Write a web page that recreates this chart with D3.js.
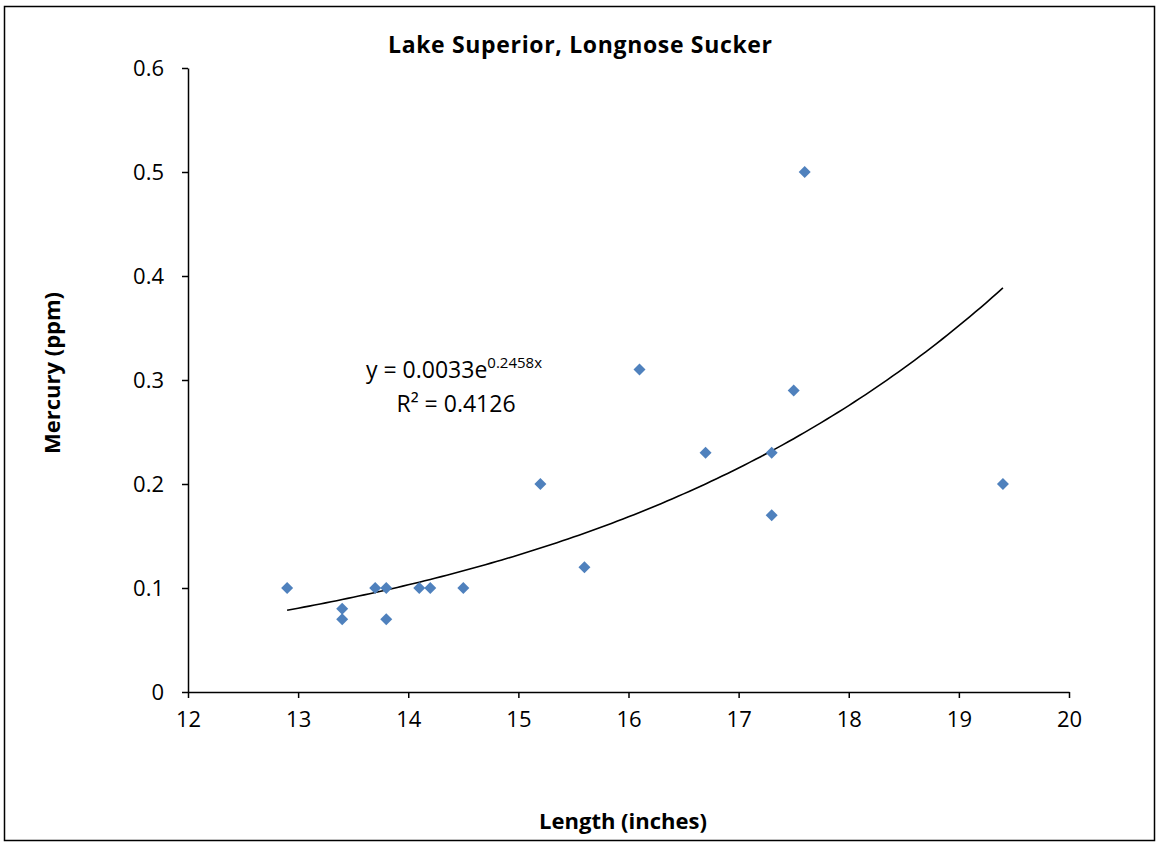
<!DOCTYPE html>
<html>
<head>
<meta charset="utf-8">
<script src="https://cdn.jsdelivr.net/npm/d3@7"></script>
<style>
  body { margin: 0; background: #fff; }
  svg { display: block; font-family: "Open Sans", Lato, sans-serif; }
</style>
</head>
<body>
<script>
// data
const lengths = [12.9, 13.4, 13.4, 13.7, 13.8, 13.8, 14.1, 14.2, 14.5, 15.2, 15.6, 16.1, 16.7, 17.3, 17.3, 17.5, 17.6, 19.4];
const mercury = [0.10, 0.08, 0.07, 0.10, 0.10, 0.07, 0.10, 0.10, 0.10, 0.20, 0.12, 0.31, 0.23, 0.23, 0.17, 0.29, 0.50, 0.20];
const xTicks = [12, 13, 14, 15, 16, 17, 18, 19, 20];
const yTicks = [0, 0.1, 0.2, 0.3, 0.4, 0.5, 0.6];
// exponential trendline as printed on the chart
const trendA = 0.0033;
const trendB = 0.2458;

const width = 1156;
const height = 842;
const margin = {left: 188, top: 68, right: 87, bottom: 150};
const font = '"Open Sans", Lato, sans-serif';

const svg = d3.select('body')
    .append('svg')
    .attr('width', width)
    .attr('height', height);

// outer chart border
svg.append('rect')
    .attr('x', 4.5).attr('y', 6.5)
    .attr('width', 1150).attr('height', 834)
    .attr('fill', 'none')
    .attr('stroke', '#000')
    .attr('stroke-width', 1.5);

const x = d3.scaleLinear().domain([12, 20]).range([margin.left, width - margin.right]);
const y = d3.scaleLinear().domain([0, 0.6]).range([height - margin.bottom, margin.top]);

const xAxis = svg.append('g')
    .attr('transform', `translate(0,${y(0)})`)
    .call(d3.axisBottom(x).tickValues(xTicks).tickSize(6).tickSizeOuter(0).tickPadding(13).tickFormat(d3.format('d')));

const yAxis = svg.append('g')
    .attr('transform', `translate(${x(12)},0)`)
    .call(d3.axisLeft(y).tickValues(yTicks).tickSize(6).tickSizeOuter(0).tickPadding(18).tickFormat(d => d === 0 ? '0' : d3.format('.1f')(d)));

[xAxis, yAxis].forEach(g => {
  g.selectAll('path, line').attr('stroke', '#000').attr('stroke-width', 1.5);
  g.selectAll('text').attr('font-size', 22).attr('fill', '#000').attr('font-family', font);
});

// trendline
const trendX = d3.range(12.9, 19.4001, 0.05);
const line = d3.line()
    .x(d => x(d))
    .y(d => y(trendA * Math.exp(trendB * d)));
svg.append('path')
    .datum(trendX)
    .attr('d', line)
    .attr('fill', 'none')
    .attr('stroke', '#000')
    .attr('stroke-width', 1.6);

// diamond markers
const diamond = d3.symbol().type(d3.symbolSquare).size(72);
svg.selectAll('.dot')
    .data(lengths.map((l, i) => ({l: l, m: mercury[i]})))
    .join('path')
    .attr('class', 'dot')
    .attr('d', diamond)
    .attr('transform', d => `translate(${x(d.l)},${y(d.m)}) rotate(45)`)
    .attr('fill', '#4F81BD');

// title and axis labels
svg.append('text')
    .attr('x', 580).attr('y', 53)
    .attr('text-anchor', 'middle')
    .attr('font-size', 23).attr('font-weight', 'bold')
    .attr('textLength', 384)
    .text('Lake Superior, Longnose Sucker');

svg.append('text')
    .attr('x', 623).attr('y', 829)
    .attr('text-anchor', 'middle')
    .attr('font-size', 22).attr('font-weight', 'bold')
    .text('Length (inches)');

svg.append('text')
    .attr('transform', 'translate(60,373) rotate(-90)')
    .attr('text-anchor', 'middle')
    .attr('font-size', 22).attr('font-weight', 'bold')
    .text('Mercury (ppm)');

// trendline equation
const eq = svg.append('text')
    .attr('x', 366).attr('y', 378)
    .attr('font-size', 23);
eq.append('tspan').text('y = ' + trendA + 'e');
eq.append('tspan').attr('dy', -10).attr('font-size', 15).text(trendB + 'x');

svg.append('text')
    .attr('x', 456).attr('y', 412)
    .attr('text-anchor', 'middle')
    .attr('font-size', 23)
    .text('R² = 0.4126');
</script>
</body>
</html>
